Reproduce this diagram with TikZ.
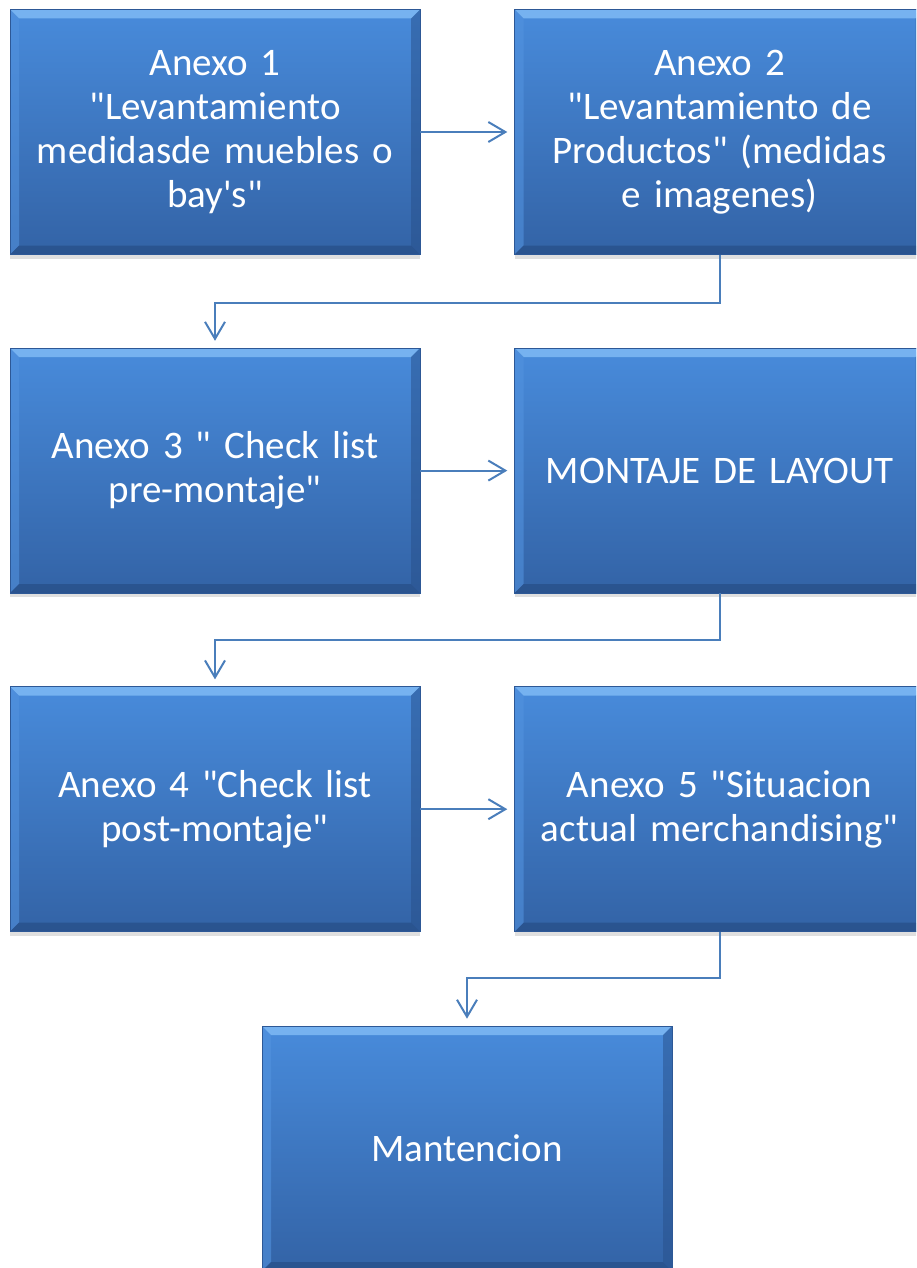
\documentclass[tikz,border=0pt]{standalone}
\usepackage{fontspec}
\newfontfamily\boxfont{Carlito}
\usepackage{tikz}
\usetikzlibrary{arrows.meta,positioning,shadows,calc}

\definecolor{boxtop}{RGB}{72,139,219}
\definecolor{boxbot}{RGB}{51,99,166}
\definecolor{bevlight}{RGB}{118,178,240}
\definecolor{bevside}{RGB}{82,146,222}
\definecolor{bevdark}{RGB}{40,80,138}
\definecolor{boxedge}{RGB}{45,88,150}
\definecolor{flowcol}{RGB}{74,126,187}

\begin{document}
\begin{tikzpicture}[x=1pt,y=1pt,>={Straight Barb[length=17pt,width=20pt]},node distance=93pt and 94pt]

   \tikzstyle{stepbox}=[rectangle,minimum width=410pt,minimum height=245pt,inner sep=0pt,
      text width=400pt,align=center,text=white,font=\boxfont\fontsize{39}{44}\selectfont,
      top color=boxtop,bottom color=boxbot,draw=boxedge,line width=0.6pt,
      drop shadow={shadow xshift=0pt,shadow yshift=-4pt,opacity=0.25},
      path picture={
        \coordinate (nw) at (path picture bounding box.north west);
        \coordinate (ne) at (path picture bounding box.north east);
        \coordinate (sw) at (path picture bounding box.south west);
        \coordinate (se) at (path picture bounding box.south east);
        \fill[bevlight] (nw) -- (ne) -- ($(ne)+(-9,-9)$) -- ($(nw)+(9,-9)$) -- cycle;
        \fill[bevside,opacity=0.6] (nw) -- ($(nw)+(9,-9)$) -- ($(sw)+(9,9)$) -- (sw) -- cycle;
        \fill[bevdark,opacity=0.5] (ne) -- ($(ne)+(-9,-9)$) -- ($(se)+(-9,9)$) -- (se) -- cycle;
        \fill[bevdark,opacity=0.8] (sw) -- (se) -- ($(se)+(-9,9)$) -- ($(sw)+(9,9)$) -- cycle;
      }]
   \tikzstyle{flow}=[->,draw=flowcol,line width=2pt,shorten >=7pt]

   % page frame
   \useasboundingbox (0,0) rectangle (916,-1268);
   \clip (0,0) rectangle (916,-1268);

   \node[stepbox] (anexo1) at (215,-132) {Anexo 1\\"Levantamiento\\medidasde muebles o\\bay\textquotesingle s"};
   \node[stepbox] (anexo2) [right=of anexo1] {Anexo 2\\"Levantamiento de\\Productos" (medidas\\e imagenes)};
   \node[stepbox] (anexo3) [below=of anexo1] {Anexo 3 " Check list\\pre-montaje"};
   \node[stepbox] (montaje) [right=of anexo3] {MONTAJE DE LAYOUT};
   \node[stepbox] (anexo4) [below=of anexo3] {Anexo 4 "Check list\\post-montaje"};
   \node[stepbox] (anexo5) [right=of anexo4] {Anexo 5 "Situacion\\actual merchandising"};
   \node[stepbox] (mantencion) at (467,-1148.5) {Mantencion};

   \draw[flow] (anexo1) -- (anexo2);
   \draw[flow] (anexo3) -- (montaje);
   \draw[flow] (anexo4) -- (anexo5);

   \draw[flow] (anexo2.south) -- ++(0,-48) -| (anexo3.north);
   \draw[flow] (montaje.south) -- ++(0,-47) -| (anexo4.north);
   \draw[flow] (anexo5.south) -- ++(0,-46) -| (mantencion.north);

\end{tikzpicture}
\end{document}
